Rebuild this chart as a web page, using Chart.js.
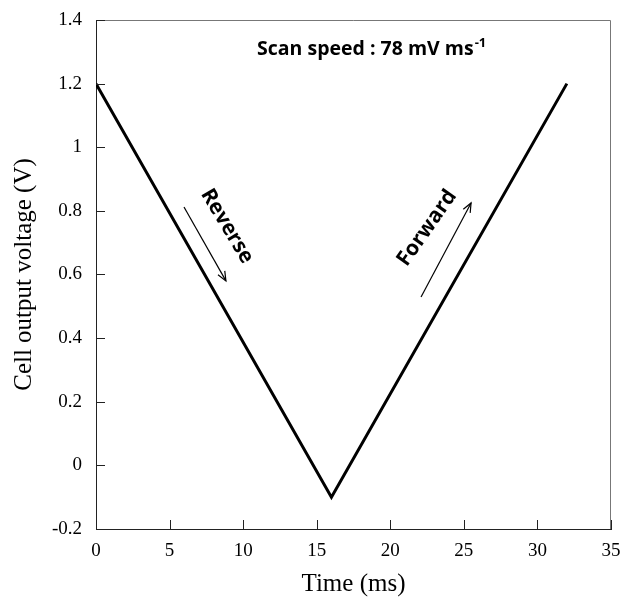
<!DOCTYPE html>
<html>
<head>
<meta charset="utf-8">
<script src="https://cdn.jsdelivr.net/npm/chart.js@4/dist/chart.umd.min.js"></script>
<style>
  html, body { margin: 0; padding: 0; background: #fff; }
  #wrap { width: 624px; height: 605px; }
</style>
</head>
<body>
<div id="wrap"><canvas id="scanChart" width="624" height="605"></canvas></div>
<script>
// ---- data ----
const TIME_MS = [0, 16, 32];
const VOLTAGE = [1.2, -0.1, 1.2];
const X_TICKS = [0, 5, 10, 15, 20, 25, 30, 35];
const Y_TICKS = [-0.2, 0, 0.2, 0.4, 0.6, 0.8, 1, 1.2, 1.4];

const TITLE_TEXT = "Scan speed : 78 mV ms";
const TITLE_SUP = "-1";
const SERIF = "'Liberation Serif', 'Times New Roman', serif";
const SANS = "'Open Sans', 'Noto Sans', sans-serif";

// annotation anchors, in data units
const NOTE_TITLE = { x: 18.7, y: 1.306 };
const NOTE_REVERSE = { x: 8.9, y: 0.752, angle: 59 };
const NOTE_FORWARD = { x: 22.5, y: 0.746, angle: -55 };
const ARROW_REVERSE = [[5.98, 0.812], [8.83, 0.58]];
const ARROW_FORWARD = [[22.09, 0.529], [25.49, 0.825]];

function drawArrow(ctx, x1, y1, x2, y2) {
  const a = Math.atan2(y2 - y1, x2 - x1);
  const h = 10;
  ctx.beginPath();
  ctx.moveTo(x1, y1);
  ctx.lineTo(x2, y2);
  ctx.stroke();
  ctx.beginPath();
  ctx.moveTo(x2 - h * Math.cos(a - 0.4), y2 - h * Math.sin(a - 0.4));
  ctx.lineTo(x2, y2);
  ctx.lineTo(x2 - h * Math.cos(a + 0.4), y2 - h * Math.sin(a + 0.4));
  ctx.stroke();
}

const framePlugin = {
  id: "frame",
  afterDraw(chart) {
    const { ctx, chartArea: ca, scales } = chart;
    const xs = scales.x, ys = scales.y;
    ctx.save();

    // box
    ctx.strokeStyle = "#777";
    ctx.lineWidth = 1;
    ctx.beginPath();
    ctx.moveTo(ca.left, ca.top + 0.5);
    ctx.lineTo(ca.right - 0.5, ca.top + 0.5);
    ctx.lineTo(ca.right - 0.5, ca.bottom);
    ctx.stroke();

    // inward ticks
    ctx.strokeStyle = "#222";
    ctx.beginPath();
    Y_TICKS.forEach(v => {
      const y = Math.round(ys.getPixelForValue(v)) + 0.5;
      ctx.moveTo(ca.left, y);
      ctx.lineTo(ca.left + 9, y);
    });
    X_TICKS.forEach(v => {
      const x = Math.round(xs.getPixelForValue(v)) + 0.5;
      ctx.moveTo(x, ca.bottom);
      ctx.lineTo(x, ca.bottom - 9);
    });
    ctx.stroke();

    // title
    ctx.fillStyle = "#000";
    ctx.font = "bold 19.5px " + SANS;
    ctx.textBaseline = "alphabetic";
    const mainW = ctx.measureText(TITLE_TEXT).width;
    ctx.font = "bold 13px " + SANS;
    const supW = ctx.measureText(TITLE_SUP).width;
    const tx = xs.getPixelForValue(NOTE_TITLE.x) - (mainW + supW) / 2;
    const ty = ys.getPixelForValue(NOTE_TITLE.y) + 5;
    ctx.font = "bold 19.5px " + SANS;
    ctx.textAlign = "left";
    ctx.fillText(TITLE_TEXT, tx, ty);
    ctx.font = "bold 13px " + SANS;
    ctx.fillText(TITLE_SUP, tx + mainW + 1, ty - 8);

    // rotated labels
    ctx.font = "bold 21px " + SANS;
    ctx.textAlign = "center";
    ctx.textBaseline = "middle";
    [[NOTE_REVERSE, "Reverse"], [NOTE_FORWARD, "Forward"]].forEach(([n, label]) => {
      ctx.save();
      ctx.translate(xs.getPixelForValue(n.x), ys.getPixelForValue(n.y));
      ctx.rotate(n.angle * Math.PI / 180);
      ctx.fillText(label, 0, 0);
      ctx.restore();
    });

    // arrows
    ctx.strokeStyle = "#000";
    ctx.lineWidth = 1.2;
    [ARROW_REVERSE, ARROW_FORWARD].forEach(([p, q]) => {
      drawArrow(ctx,
        xs.getPixelForValue(p[0]), ys.getPixelForValue(p[1]),
        xs.getPixelForValue(q[0]), ys.getPixelForValue(q[1]));
    });

    ctx.restore();
  }
};

new Chart(document.getElementById("scanChart"), {
  type: "line",
  data: {
    datasets: [{
      data: TIME_MS.map((t, i) => ({ x: t, y: VOLTAGE[i] })),
      borderColor: "#000",
      borderWidth: 3,
      pointRadius: 0,
      tension: 0,
      fill: false
    }]
  },
  options: {
    responsive: false,
    animation: false,
    layout: { padding: { left: 0, top: 20, right: 13, bottom: 0 } },
    plugins: { legend: { display: false }, tooltip: { enabled: false } },
    scales: {
      x: {
        type: "linear",
        min: 0,
        max: 35,
        afterFit: s => { s.height = 76; s.paddingRight = 0; s.paddingLeft = 0; },
        afterBuildTicks: s => { s.ticks = X_TICKS.map(v => ({ value: v })); },
        grid: { display: false, drawTicks: false },
        border: { display: true, color: "#222", width: 1 },
        ticks: { color: "#000", padding: 11, maxRotation: 0, font: { family: SERIF, size: 19 } },
        title: {
          display: true,
          text: "Time (ms)",
          color: "#000",
          font: { family: SERIF, size: 25 },
          padding: { top: 0, bottom: 6 }
        }
      },
      y: {
        min: -0.2,
        max: 1.4,
        afterFit: s => { s.width = 96; s.paddingTop = 0; s.paddingBottom = 0; },
        afterBuildTicks: s => { s.ticks = Y_TICKS.map(v => ({ value: v })); },
        grid: { display: false, drawTicks: false },
        border: { display: true, color: "#222", width: 1 },
        ticks: {
          color: "#000",
          padding: 14,
          font: { family: SERIF, size: 19 },
          callback: v => String(Math.round(v * 10) / 10)
        },
        title: {
          display: true,
          text: "Cell output voltage (V)",
          color: "#000",
          font: { family: SERIF, size: 25 },
          padding: { top: 9, bottom: 0 }
        }
      }
    }
  },
  plugins: [framePlugin]
});
</script>
</body>
</html>
